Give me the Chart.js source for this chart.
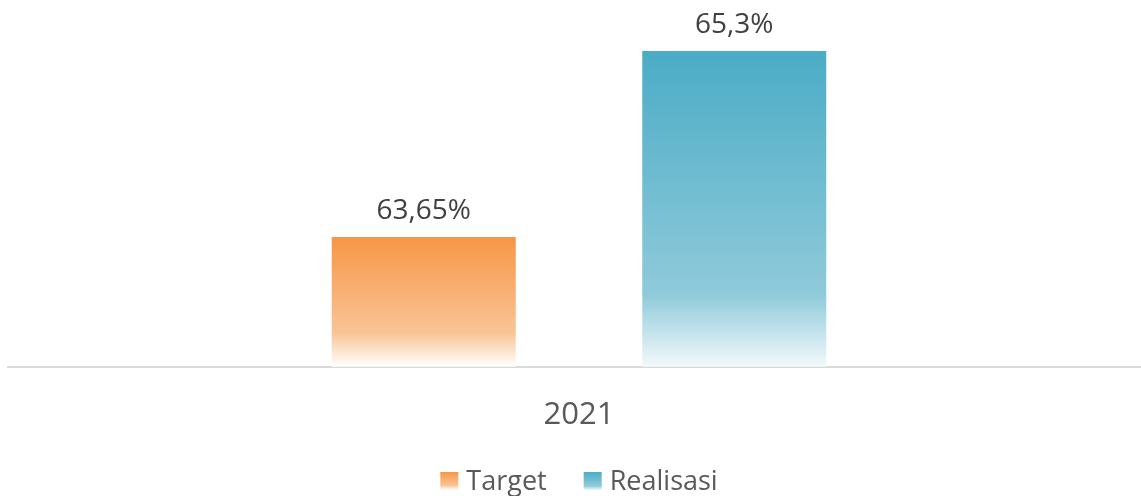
<!DOCTYPE html>
<html>
<head>
<meta charset="utf-8">
<script src="https://cdn.jsdelivr.net/npm/chart.js@4"></script>
<style>
  html, body { margin: 0; padding: 0; overflow: hidden; background: #ffffff; }
  #wrap { width: 1150px; height: 496px; position: relative; }
</style>
</head>
<body>
<div id="wrap"><canvas id="chart"></canvas></div>
<script>
// Capaian 2021: target vs realisasi (persen)
const categories = ['2021'];
const seriesNames = ['Target', 'Realisasi'];
const targetValues = [63.65];
const realisasiValues = [65.3];
const axisMin = 62.5;
const axisMax = 65.5;

const FONT = "'Open Sans', 'Noto Sans', sans-serif";

// vertical fades: solid colour at the top, tinted, then near-white at the base
const orangeStops = [[0, '#F79646'], [0.74, '#F9C496'], [1, '#FFFFFF']];
const blueStops = [[0, '#4BACC6'], [0.77, '#8FCADA'], [1, '#F2F9FB']];

function makeGradient(ctx, top, bottom, stops) {
  const g = ctx.createLinearGradient(0, top, 0, bottom);
  stops.forEach(([p, c]) => g.addColorStop(p, c));
  return g;
}

function barFill(stops) {
  return (context) => {
    const chart = context.chart;
    if (!chart.chartArea || context.raw === undefined) return stops[0][1];
    const yScale = chart.scales.y;
    const top = yScale.getPixelForValue(context.raw);
    const bottom = yScale.getPixelForValue(axisMin);
    return makeGradient(chart.ctx, top, bottom, stops);
  };
}

function formatPct(v) {
  return String(v).replace('.', ',') + '%';
}

// value labels above each bar
const valueLabels = {
  id: 'valueLabels',
  afterDatasetsDraw(chart) {
    const ctx = chart.ctx;
    ctx.save();
    ctx.font = '28px ' + FONT;
    ctx.fillStyle = '#404040';
    ctx.textAlign = 'center';
    ctx.textBaseline = 'alphabetic';
    chart.data.datasets.forEach((ds, i) => {
      chart.getDatasetMeta(i).data.forEach((bar, j) => {
        ctx.fillText(formatPct(ds.data[j]), bar.x, bar.y - 18);
      });
    });
    ctx.restore();
  }
};

// legend row under the category label
const bottomLegend = {
  id: 'bottomLegend',
  afterDraw(chart) {
    const ctx = chart.ctx;
    const box = 18, gap = 8, itemGap = 37;
    ctx.save();
    ctx.font = '27px ' + FONT;
    const items = chart.data.datasets.map((ds) => ({
      text: ds.label,
      stops: ds.legendStops,
      w: ctx.measureText(ds.label).width
    }));
    let total = 0;
    items.forEach((it, i) => { total += box + gap + it.w + (i < items.length - 1 ? itemGap : 0); });
    const area = chart.chartArea;
    let x = (area.left + area.right) / 2 - total / 2;
    const boxTop = 472, baseline = 489.5;
    items.forEach((it) => {
      ctx.fillStyle = makeGradient(ctx, boxTop, boxTop + box, it.stops);
      ctx.fillRect(x, boxTop, box, box);
      x += box + gap;
      ctx.fillStyle = '#595959';
      ctx.textAlign = 'left';
      ctx.textBaseline = 'alphabetic';
      ctx.fillText(it.text, x, baseline);
      x += it.w + itemGap;
    });
    ctx.restore();
  }
};

new Chart(document.getElementById('chart'), {
  type: 'bar',
  data: {
    labels: categories,
    datasets: [
      {
        label: seriesNames[0],
        data: targetValues,
        backgroundColor: barFill(orangeStops),
        legendStops: orangeStops,
        borderWidth: 0,
        categoryPercentage: 0.5438,
        barPercentage: 0.5926
      },
      {
        label: seriesNames[1],
        data: realisasiValues,
        backgroundColor: barFill(blueStops),
        legendStops: blueStops,
        borderWidth: 0,
        categoryPercentage: 0.5438,
        barPercentage: 0.5926
      }
    ]
  },
  options: {
    responsive: true,
    maintainAspectRatio: false,
    animation: false,
    devicePixelRatio: 1,
    layout: { padding: { left: 8, right: 0, top: 28.4, bottom: 32 } },
    plugins: {
      legend: { display: false },
      tooltip: { enabled: false }
    },
    scales: {
      x: {
        z: 1,
        grid: { display: false, drawTicks: false },
        border: { display: true, color: '#D9D9D9', width: 2 },
        ticks: { padding: 30, color: '#595959', font: { family: FONT, size: 31 } }
      },
      y: {
        display: false,
        min: axisMin,
        max: axisMax
      }
    }
  },
  plugins: [valueLabels, bottomLegend]
});
</script>
</body>
</html>
